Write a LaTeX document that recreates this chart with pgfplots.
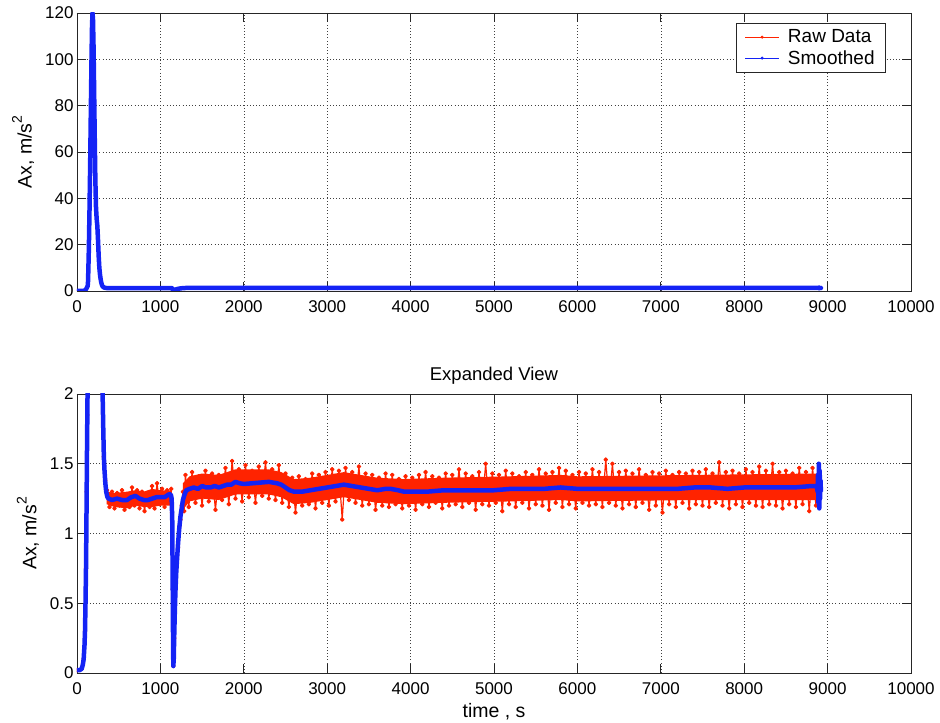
\documentclass[border=0pt]{standalone}
\usepackage{fontspec}
\setmainfont{Liberation Sans}
\usepackage{pgfplots}
\pgfplotsset{compat=1.18}
\usepackage{pgfplotstable}

\definecolor{rawred}{RGB}{255,35,0}
\definecolor{smblue}{RGB}{20,35,245}

% Smoothed series
\pgfplotstableread{
x y
0 0.02
30 0.02
56 0.03
70 0.06
80 0.1
90 0.2
96 0.3
102 0.5
108 0.75
112 1.0
116 1.3
120 1.6
124 1.85
128 2.1
132 4
136 9
142 18
150 35
158 55
166 78
174 100
180 114
186 120
192 117
198 106
205 88
212 68
220 48
228 36
236 31
244 28
252 22
260 15
268 10
276 7
284 5
292 3.5
300 2.5
307 2.0
315 1.75
322 1.55
330 1.45
340 1.36
350 1.30
365 1.26
380 1.25
420 1.24
480 1.25
540 1.24
600 1.24
650 1.26
700 1.27
750 1.25
800 1.24
850 1.24
900 1.25
950 1.26
1000 1.26
1050 1.26
1100 1.28
1125 1.28
1135 1.25
1142 1.1
1148 0.6
1152 0.2
1155 0.05
1160 0.1
1165 0.25
1172 0.42
1180 0.58
1190 0.72
1200 0.82
1212 0.93
1225 1.03
1240 1.12
1255 1.18
1270 1.24
1290 1.28
1310 1.31
1350 1.32
1400 1.33
1450 1.32
1500 1.34
1550 1.33
1600 1.33
1650 1.34
1700 1.33
1750 1.34
1800 1.35
1850 1.35
1900 1.37
1950 1.36
2000 1.355
2100 1.36
2200 1.365
2300 1.37
2400 1.36
2450 1.35
2500 1.33
2550 1.31
2600 1.30
2700 1.30
2800 1.31
2900 1.32
3000 1.33
3100 1.34
3200 1.35
3300 1.34
3400 1.33
3500 1.32
3600 1.31
3700 1.32
3760 1.32
3850 1.31
3920 1.30
4000 1.30
4200 1.30
4400 1.31
4600 1.31
4800 1.31
5000 1.31
5200 1.32
5400 1.32
5600 1.32
5800 1.33
6000 1.32
6200 1.32
6400 1.32
6600 1.32
6800 1.32
7000 1.32
7200 1.32
7400 1.33
7600 1.33
7800 1.32
8000 1.33
8200 1.33
8400 1.33
8600 1.33
8800 1.34
8870 1.34
8880 1.30
8885 1.42
8890 1.22
8895 1.50
8900 1.18
8905 1.45
8910 1.25
8915 1.38
8920 1.30
}\smoothtab

% Raw data series
\pgfplotstableread{
x y
0 0.02
56 0.03
80 0.1
96 0.3
108 0.75
116 1.3
124 1.85
132 4
142 18
158 55
174 100
186 120
198 106
212 68
228 36
244 28
260 15
276 7
292 3.5
307 2.0
322 1.55
340 1.38
360 1.31
390 1.19
420 1.30
450 1.18
480 1.29
510 1.20
540 1.31
570 1.17
600 1.28
630 1.19
660 1.33
690 1.20
720 1.31
750 1.18
780 1.30
810 1.16
840 1.29
870 1.19
900 1.34
930 1.18
960 1.36
990 1.21
1020 1.32
1050 1.19
1080 1.31
1110 1.22
1130 1.32
1140 1.15
1148 0.6
1155 0.05
1165 0.25
1180 0.6
1200 0.85
1212 0.9
1225 1.05
1240 1.10
1255 1.20
1270 1.30
1285 1.16
1300 1.42
1340 1.19
1380 1.44
1420 1.22
1460 1.41
1500 1.20
1540 1.45
1580 1.23
1620 1.43
1660 1.17
1700 1.42
1740 1.24
1780 1.47
1820 1.21
1860 1.52
1900 1.25
1940 1.46
1980 1.23
2020 1.49
2060 1.26
2100 1.45
2140 1.22
2180 1.48
2220 1.27
2260 1.51
2300 1.25
2340 1.46
2380 1.24
2420 1.49
2460 1.22
2500 1.43
2540 1.19
2580 1.40
2620 1.15
2660 1.41
2700 1.20
2740 1.39
2780 1.21
2820 1.43
2860 1.18
2900 1.42
2940 1.22
2980 1.44
3020 1.20
3060 1.46
3100 1.23
3140 1.45
3180 1.10
3220 1.47
3260 1.24
3300 1.44
3340 1.22
3380 1.48
3420 1.20
3460 1.43
3500 1.21
3540 1.42
3580 1.17
3620 1.40
3660 1.20
3700 1.43
3740 1.19
3780 1.42
3820 1.21
3860 1.39
3900 1.18
3940 1.41
3980 1.20
4020 1.40
4060 1.17
4100 1.42
4140 1.21
4180 1.44
4220 1.19
4260 1.41
4300 1.22
4340 1.40
4380 1.18
4420 1.43
4460 1.20
4500 1.42
4540 1.21
4580 1.46
4620 1.19
4660 1.43
4700 1.22
4740 1.41
4780 1.17
4820 1.44
4860 1.21
4900 1.50
4940 1.20
4980 1.43
5020 1.22
5060 1.42
5100 1.16
5140 1.45
5180 1.21
5220 1.43
5260 1.19
5300 1.41
5340 1.22
5380 1.44
5420 1.18
5460 1.42
5500 1.21
5540 1.46
5580 1.20
5620 1.43
5660 1.17
5700 1.44
5740 1.22
5780 1.47
5820 1.19
5860 1.45
5900 1.21
5940 1.42
5980 1.18
6020 1.44
6060 1.22
6100 1.43
6140 1.20
6180 1.46
6220 1.21
6260 1.44
6300 1.19
6340 1.53
6380 1.22
6420 1.50
6460 1.20
6500 1.44
6540 1.18
6580 1.45
6620 1.21
6660 1.43
6700 1.19
6740 1.46
6780 1.22
6820 1.42
6860 1.17
6900 1.44
6940 1.20
6980 1.43
7020 1.15
7060 1.45
7100 1.21
7140 1.42
7180 1.19
7220 1.44
7260 1.22
7300 1.43
7340 1.18
7380 1.45
7420 1.21
7460 1.44
7500 1.20
7540 1.46
7580 1.19
7620 1.43
7660 1.22
7700 1.51
7740 1.20
7780 1.44
7820 1.18
7860 1.45
7900 1.21
7940 1.43
7980 1.19
8020 1.46
8060 1.22
8100 1.44
8140 1.20
8180 1.48
8220 1.19
8260 1.45
8300 1.21
8340 1.50
8380 1.20
8420 1.44
8460 1.18
8500 1.45
8540 1.21
8580 1.43
8620 1.19
8660 1.47
8700 1.21
8740 1.44
8780 1.16
8820 1.47
8860 1.20
8873 1.40
}\rawtab

% dense core of the raw-data band (upper edge, then lower edge reversed)
\pgfplotstableread{
x y
355 1.30
450 1.29
600 1.30
700 1.31
800 1.30
900 1.32
1000 1.31
1130 1.31
1130 1.20
1000 1.20
900 1.19
800 1.19
700 1.20
600 1.18
450 1.19
355 1.21
}\envA

\pgfplotstableread{
x y
1270 1.36
1350 1.41
1500 1.43
1700 1.42
1900 1.46
2300 1.46
2450 1.44
2600 1.39
2800 1.40
3200 1.44
3600 1.40
3920 1.39
4400 1.40
5200 1.41
5800 1.42
6000 1.41
7400 1.42
8870 1.43
8870 1.24
7400 1.24
6000 1.23
5800 1.24
5200 1.23
4400 1.22
3920 1.21
3600 1.22
3200 1.26
2800 1.22
2600 1.21
2450 1.26
2300 1.28
1900 1.28
1700 1.24
1500 1.25
1350 1.23
1270 1.17
}\envB

\pgfplotsset{
  matstyle/.style={
    width=834pt, scale only axis,
    xmin=0, xmax=10000,
    xtick={0,1000,...,10000},
    scaled x ticks=false, scaled y ticks=false,
    clip marker paths=true,
    grid=major,
    major grid style={black!75, line width=0.5pt, dash pattern=on 0.8pt off 2.4pt},
    axis line style={black!85, line width=0.8pt},
    tick style={black!85, line width=0.8pt},
    major tick length=9pt,
    tick align=inside,
    tick label style={font=\fontsize{17}{20}\selectfont},
    xticklabel style={yshift=-6pt},
    label style={font=\fontsize{19.5}{23}\selectfont},
    title style={font=\fontsize{18.5}{22}\selectfont},
    ylabel shift=4pt,
    xlabel shift=2pt,
    /pgf/number format/1000 sep={},
    /pgf/number format/assume math mode=true,
  },
  rawstyle/.style={color=rawred, line width=1.2pt, mark=*, mark size=1.7pt, line join=round},
  smstyle/.style={color=smblue, line width=4.5pt, line join=round, line cap=round},
}
\newcommand{\axlabel}{Ax, m/s\raisebox{0.5em}{\fontsize{14}{14}\selectfont 2}}

\begin{document}
\begin{tikzpicture}

% ---------- top panel ----------
\begin{axis}[matstyle,
  at={(77pt,432pt)}, anchor=south west,
  height=278pt,
  ymin=0, ymax=120, ytick={0,20,...,120},
  ylabel={\axlabel},
  legend style={at={(1,1)}, anchor=north east, xshift=-25pt, yshift=-10pt,
    draw=black!85, line width=0.8pt, fill=white,
    font=\fontsize{19}{22}\selectfont,
    inner xsep=8.5pt, inner ysep=4pt, row sep=1pt, column sep=6pt,
    nodes={inner sep=2.5pt}},
  legend cell align=left,
  legend image code/.code={\draw[#1, mark repeat=2, mark phase=2] plot coordinates {(0pt,0pt) (17pt,0pt) (34pt,0pt)};},
]
\addlegendimage{color=rawred, line width=0.6pt, mark=*, mark size=1.2pt}
\addlegendimage{color=smblue, line width=0.6pt, mark=*, mark size=1.2pt}
\addplot[color=rawred, line width=1.2pt, forget plot] table[x=x, y=y] {\rawtab};
\addplot[smstyle, forget plot] table[x=x, y=y] {\smoothtab};
\legend{Raw Data, Smoothed}
\end{axis}

% ---------- bottom panel ----------
\begin{axis}[matstyle,
  at={(77pt,50pt)}, anchor=south west,
  height=279pt,
  ymin=0, ymax=2, ytick={0,0.5,1,1.5,2},
  yticklabels={0,0.5,1,1.5,2},
  restrict y to domain=-1:10,
  unbounded coords=jump,
  title={Expanded View},
  xlabel={time , s},
  ylabel={\axlabel},
]
\addplot[fill=rawred, draw=none, forget plot] table[x=x, y=y] {\envA} -- cycle;
\addplot[fill=rawred, draw=none, forget plot] table[x=x, y=y] {\envB} -- cycle;
\addplot[rawstyle, forget plot] table[x=x, y=y] {\rawtab};
\addplot[color=smblue, line width=4.5pt, line join=round, forget plot] table[x=x, y=y] {\smoothtab};
\end{axis}

\pgfresetboundingbox
\useasboundingbox (0pt,0pt) rectangle (940pt,723pt);
\end{tikzpicture}
\end{document}
